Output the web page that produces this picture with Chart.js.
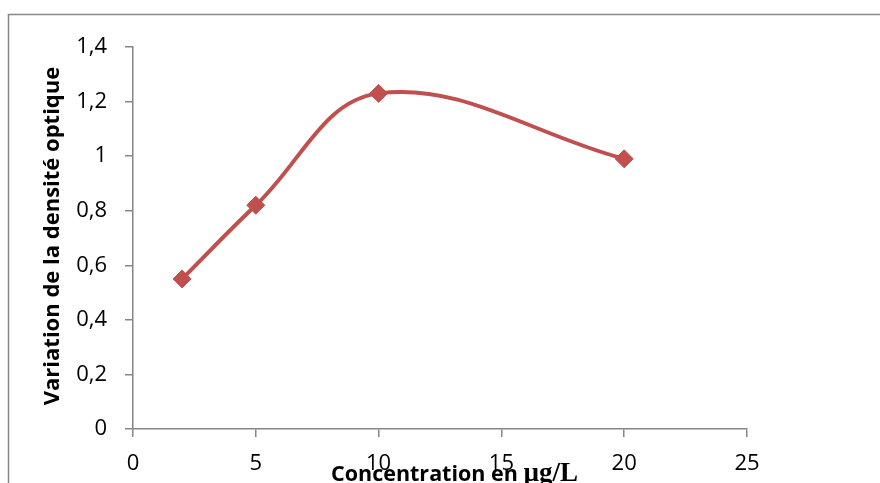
<!DOCTYPE html>
<html>
<head>
<meta charset="utf-8">
<script src="https://cdn.jsdelivr.net/npm/chart.js@4/dist/chart.umd.min.js"></script>
<style>
  html, body { margin: 0; padding: 0; background: #ffffff; }
  #wrap { width: 880px; height: 483px; overflow: hidden; }
</style>
</head>
<body>
<div id="wrap"><canvas id="c" width="880" height="483"></canvas></div>
<script>
// Concentration (µg/L) and measured change in optical density
const concentrations = [2, 5, 10, 20];
const densityVariation = [0.55, 0.82, 1.23, 0.99];

// Axis tick labels (French decimal comma)
const xTickLabels = ['0', '5', '10', '15', '20', '25'];
const yTickLabels = ['0', '0,2', '0,4', '0,6', '0,8', '1', '1,2', '1,4'];

const yTitle = 'Variation de la densité optique';
const xTitleWord = 'Concentration en ';
const xTitleUnit = 'µg/L';

const AXIS_GREY = '#868686';
const SERIES_RED = '#C0504D';
const TICK_FONT = { family: "'Open Sans', sans-serif", size: 22 };

// Outer frame plus the two axis titles
const decorations = {
  id: 'decorations',
  beforeDraw(chart) {
    const ctx = chart.ctx;
    ctx.save();
    ctx.strokeStyle = AXIS_GREY;
    ctx.lineWidth = 1.5;
    ctx.strokeRect(8.5, 14.5, 1000, 1000);
    ctx.restore();
  },
  afterDraw(chart) {
    const ctx = chart.ctx;
    const area = chart.chartArea;
    ctx.save();
    ctx.fillStyle = '#000000';

    // vertical title
    ctx.save();
    ctx.translate(53, (area.top + area.bottom) / 2 - 2);
    ctx.rotate(-Math.PI / 2);
    ctx.font = "bold 22px 'Open Sans', sans-serif";
    ctx.textAlign = 'center';
    ctx.textBaseline = 'middle';
    ctx.fillText(yTitle, 0, 0);
    ctx.restore();

    // horizontal title: sans word + serif unit
    ctx.textBaseline = 'alphabetic';
    ctx.textAlign = 'left';
    const sansFont = "bold 21.5px 'Open Sans', sans-serif";
    const serifFont = "bold 27px 'Liberation Serif', serif";
    ctx.font = sansFont;
    const w1 = ctx.measureText(xTitleWord).width;
    const startX = 331;
    ctx.fillText(xTitleWord, startX, 481);
    ctx.font = serifFont;
    ctx.fillText(xTitleUnit, startX + w1, 481);
    ctx.restore();
  }
};

new Chart(document.getElementById('c'), {
  type: 'line',
  data: {
    datasets: [{
      data: concentrations.map((x, i) => ({ x: x, y: densityVariation[i] })),
      borderColor: SERIES_RED,
      backgroundColor: SERIES_RED,
      borderWidth: 4,
      tension: 0.38,
      pointStyle: 'rectRot',
      pointRadius: 9,
      pointBorderWidth: 1,
      pointBackgroundColor: SERIES_RED,
      pointBorderColor: SERIES_RED,
      fill: false
    }]
  },
  options: {
    responsive: false,
    animation: false,
    events: [],
    layout: { padding: { top: 47, right: 133, bottom: 0, left: 0 } },
    plugins: {
      legend: { display: false },
      tooltip: { enabled: false },
      title: { display: false }
    },
    scales: {
      x: {
        type: 'linear',
        min: 0,
        max: 25,
        afterFit(scale) { scale.height = 54; },
        afterBuildTicks(scale) {
          scale.ticks = xTickLabels.map(v => ({ value: parseFloat(v.replace(',', '.')) }));
        },
        ticks: {
          callback: (v, i) => xTickLabels[i],
          font: TICK_FONT,
          color: '#000000',
          padding: 14,
          maxRotation: 0,
          autoSkip: false
        },
        grid: { drawOnChartArea: false, drawTicks: true, tickLength: 8, color: AXIS_GREY, lineWidth: 1.5 },
        border: { display: true, color: AXIS_GREY, width: 1.5 }
      },
      y: {
        type: 'linear',
        min: 0,
        max: 1.4,
        afterFit(scale) { scale.width = 133; },
        afterBuildTicks(scale) {
          scale.ticks = yTickLabels.map(v => ({ value: parseFloat(v.replace(',', '.')) }));
        },
        ticks: {
          callback: (v, i) => yTickLabels[i],
          font: TICK_FONT,
          color: '#000000',
          padding: 18,
          autoSkip: false
        },
        grid: { drawOnChartArea: false, drawTicks: true, tickLength: 8, color: AXIS_GREY, lineWidth: 1.5 },
        border: { display: true, color: AXIS_GREY, width: 1.5 }
      }
    }
  },
  plugins: [decorations]
});
</script>
</body>
</html>
